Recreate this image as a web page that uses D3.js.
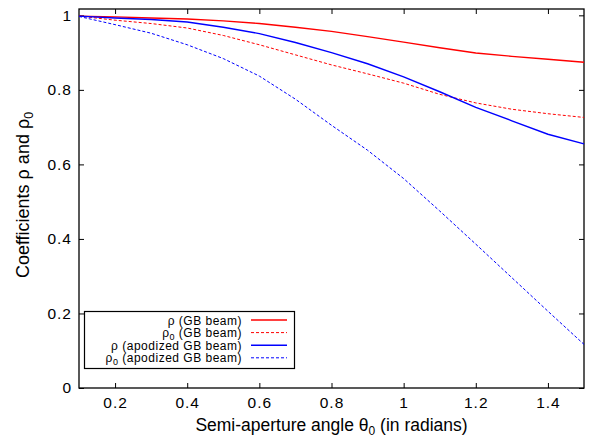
<!DOCTYPE html>
<html>
<head>
<meta charset="utf-8">
<script src="https://cdn.jsdelivr.net/npm/d3@7"></script>
<style>
  body { margin: 0; background: #fff; }
  svg { display: block; font-family: "Liberation Sans", Arial, sans-serif; }
</style>
</head>
<body>
<div id="chart"></div>
<script>

// Data: semi-aperture angle (radians) and the four coefficient curves
var theta = [0.1, 0.2, 0.3, 0.4, 0.5, 0.6, 0.7, 0.8, 0.9, 1.0, 1.1, 1.2, 1.3, 1.4, 1.5];
var rhoGB   = [0.998, 0.996, 0.993, 0.990, 0.985, 0.978, 0.968, 0.957, 0.943, 0.928, 0.913, 0.899, 0.890, 0.882, 0.874];
var rho0GB  = [0.998, 0.987, 0.978, 0.966, 0.946, 0.921, 0.894, 0.867, 0.843, 0.818, 0.788, 0.765, 0.748, 0.736, 0.726];
var rhoApo  = [0.998, 0.993, 0.989, 0.982, 0.968, 0.951, 0.927, 0.900, 0.870, 0.835, 0.795, 0.753, 0.717, 0.681, 0.655];
var rho0Apo = [0.997, 0.975, 0.952, 0.921, 0.884, 0.837, 0.775, 0.705, 0.638, 0.562, 0.475, 0.386, 0.296, 0.206, 0.117];

var xTicks = [0.2, 0.4, 0.6, 0.8, 1, 1.2, 1.4];
var yTicks = [0, 0.2, 0.4, 0.6, 0.8, 1];

var series = [
    { values: rhoGB,   color: "#ff0000", dash: null,  label: "ρ",  sub: "",  tail: " (GB beam)" },
    { values: rho0GB,  color: "#ff0000", dash: "3,2", label: "ρ",  sub: "0", tail: " (GB beam)" },
    { values: rhoApo,  color: "#0000ff", dash: null,  label: "ρ",  sub: "",  tail: " (apodized GB beam)" },
    { values: rho0Apo, color: "#0000ff", dash: "3,2", label: "ρ",  sub: "0", tail: " (apodized GB beam)" }
];


// --> SVG DRAWING AREA
var width = 590,
    height = 441;

var margin = { top: 9, right: 6, bottom: 53, left: 79 };
var innerW = width - margin.left - margin.right,
    innerH = height - margin.top - margin.bottom;

var svg = d3.select("#chart").append("svg")
    .attr("width", width)
    .attr("height", height);

var g = svg.append("g")
    .attr("transform", "translate(" + margin.left + "," + margin.top + ")");


// Scales
var x = d3.scaleLinear()
    .domain([0.1, 1.5])
    .range([0, innerW]);

var y = d3.scaleLinear()
    .domain([0, 1.017])
    .range([innerH, 0]);

var tickFmt = function(d) { return String(+d.toFixed(1)); };


// Axes (gnuplot style: inward ticks, mirrored)
var tickLen = 5;

g.append("g")
    .attr("class", "axis")
    .attr("transform", "translate(0," + innerH + ")")
    .call(d3.axisBottom(x).tickValues(xTicks).tickFormat(tickFmt).tickSizeInner(-tickLen).tickSizeOuter(0).tickPadding(9));

g.append("g")
    .attr("class", "axis")
    .call(d3.axisTop(x).tickValues(xTicks).tickFormat("").tickSizeInner(-tickLen).tickSizeOuter(0));

g.append("g")
    .attr("class", "axis")
    .call(d3.axisLeft(y).tickValues(yTicks).tickFormat(tickFmt).tickSizeInner(-tickLen).tickSizeOuter(0).tickPadding(7));

g.append("g")
    .attr("class", "axis")
    .attr("transform", "translate(" + innerW + ",0)")
    .call(d3.axisRight(y).tickValues(yTicks).tickFormat("").tickSizeInner(-tickLen).tickSizeOuter(0));

g.selectAll(".axis .domain").remove();
g.selectAll(".axis line").attr("stroke", "#000").attr("stroke-width", 1);
g.selectAll(".axis text")
    .attr("fill", "#000")
    .style("font-size", "15.5px")
    .style("letter-spacing", "1px")
    .style("font-family", "'Liberation Sans', Arial, sans-serif");

// Frame
g.append("rect")
    .attr("width", innerW)
    .attr("height", innerH)
    .attr("fill", "none")
    .attr("stroke", "#000")
    .attr("stroke-width", 1.3);


// Lines
var line = d3.line()
    .x(function(d, i) { return x(theta[i]); })
    .y(function(d) { return y(d); });

g.selectAll(".curve")
    .data(series)
    .enter().append("path")
    .attr("class", "curve")
    .attr("d", function(d) { return line(d.values); })
    .attr("fill", "none")
    .attr("stroke", function(d) { return d.color; })
    .attr("stroke-width", function(d) { return d.dash ? 1 : 1.4; })
    .attr("stroke-dasharray", function(d) { return d.dash; });


// Legend
var legend = svg.append("g").attr("class", "legend");

legend.append("rect")
    .attr("x", 84.5)
    .attr("y", 311.5)
    .attr("width", 210)
    .attr("height", 57)
    .attr("fill", "#fff")
    .attr("stroke", "#000")
    .attr("stroke-width", 1.2);

var rows = legend.selectAll("g.row")
    .data(series)
    .enter().append("g")
    .attr("class", "row")
    .attr("transform", function(d, i) { return "translate(0," + (320 + i * 12.6) + ")"; });

rows.append("line")
    .attr("x1", 251).attr("x2", 287)
    .attr("y1", 0).attr("y2", 0)
    .attr("stroke", function(d) { return d.color; })
    .attr("stroke-width", function(d) { return d.dash ? 1 : 1.4; })
    .attr("stroke-dasharray", function(d) { return d.dash; });

var lt = rows.append("text")
    .attr("x", 242)
    .attr("y", 4.5)
    .attr("text-anchor", "end")
    .style("font-size", "12px")
    .style("letter-spacing", "0.5px")
    .attr("fill", "#000");

lt.append("tspan").text(function(d) { return d.label; });
lt.append("tspan")
    .attr("dy", function(d) { return d.sub ? 3 : 0; })
    .style("font-size", "9px")
    .text(function(d) { return d.sub; });
lt.append("tspan")
    .attr("dy", function(d) { return d.sub ? -3 : 0; })
    .text(function(d) { return d.tail; });


// Axis titles
var xt = svg.append("text")
    .attr("x", margin.left + innerW / 2)
    .attr("y", 431)
    .attr("text-anchor", "middle")
    .style("font-size", "17.5px")
    .attr("fill", "#000");
xt.append("tspan").text("Semi-aperture angle θ");
xt.append("tspan").attr("dy", 4).style("font-size", "12px").text("0");
xt.append("tspan").attr("dy", -4).text(" (in radians)");

var yt = svg.append("text")
    .attr("transform", "translate(29,195) rotate(-90)")
    .attr("text-anchor", "middle")
    .style("font-size", "18px")
    .attr("fill", "#000");
yt.append("tspan").text("Coefficients ρ and ρ");
yt.append("tspan").attr("dy", 4).style("font-size", "12.5px").text("0");

</script>
</body>
</html>
